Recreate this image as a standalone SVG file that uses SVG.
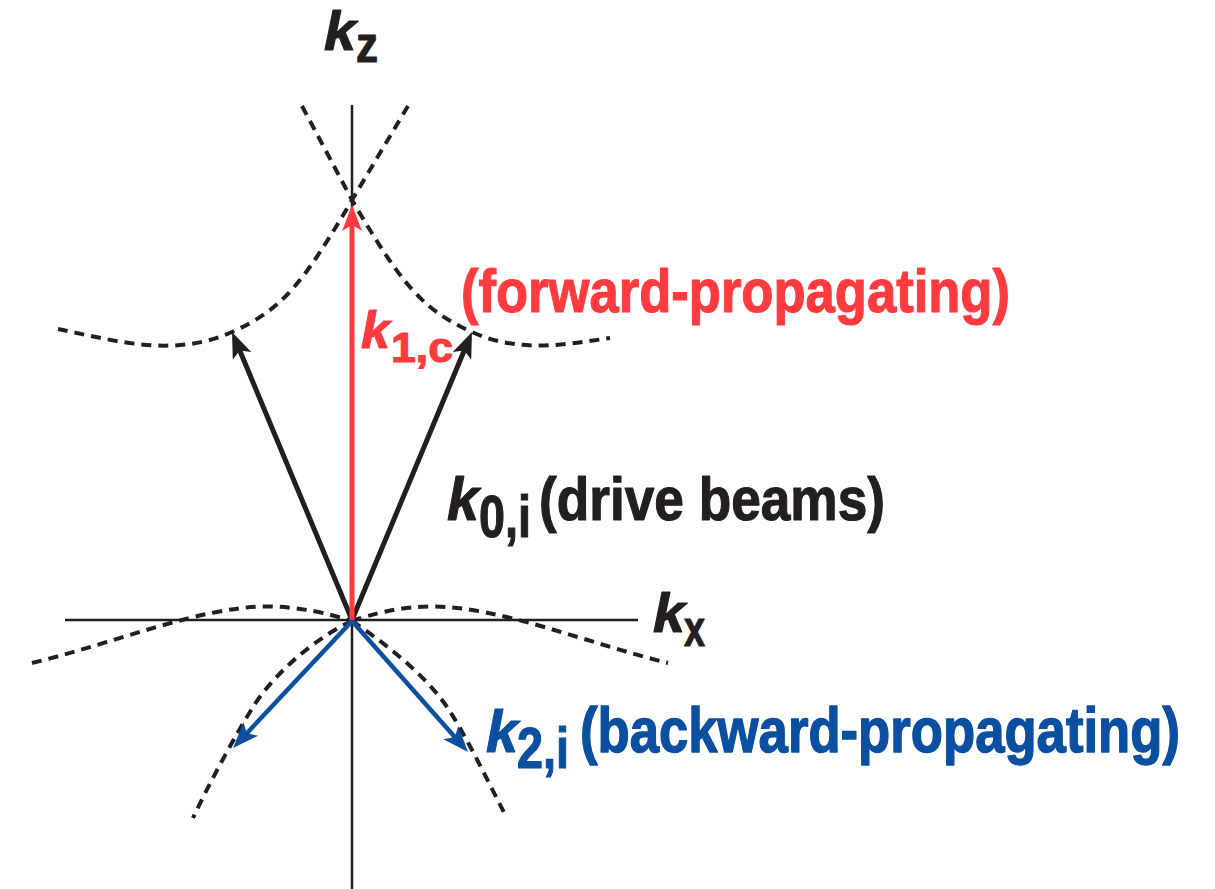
<svg xmlns="http://www.w3.org/2000/svg" width="1215" height="889" viewBox="0 0 1215 889">
<style>
.axis{stroke:#231f20;stroke-width:2.5;fill:none}
.dash{stroke:#231f20;stroke-width:4;fill:none;stroke-dasharray:10 7}
.vk{stroke:#231f20;stroke-width:5;fill:none}
.vr{stroke:#ff3b3f;stroke-width:5;fill:none}
.vb{stroke:#0a4fa0;stroke-width:4.5;fill:none}
text{font-family:"Liberation Sans",Arial,sans-serif;font-weight:bold;stroke-width:1.2;stroke-linejoin:round}
.it{font-style:italic}
.tk{fill:#231f20;stroke:#231f20}
.tr{fill:#ff3b3f;stroke:#ff3b3f}
.tb{fill:#0a4fa0;stroke:#0a4fa0}
</style>
<defs>
<marker id="hk" markerUnits="userSpaceOnUse" viewBox="-15 -12 32 24" markerWidth="32" markerHeight="24" refX="0" refY="0" orient="auto" overflow="visible"><path d="M15,0 L-11,-10 L-5,0 L-11,10 Z" fill="#231f20"/></marker>
<marker id="hr" markerUnits="userSpaceOnUse" viewBox="-15 -12 32 24" markerWidth="32" markerHeight="24" refX="0" refY="0" orient="auto" overflow="visible"><path d="M15,0 L-11,-10 L-5,0 L-11,10 Z" fill="#ff3b3f"/></marker>
<marker id="hb" markerUnits="userSpaceOnUse" viewBox="-15 -12 32 24" markerWidth="32" markerHeight="24" refX="0" refY="0" orient="auto" overflow="visible"><path d="M15,0 L-11,-10 L-5,0 L-11,10 Z" fill="#0a4fa0"/></marker>
</defs>
<rect width="1215" height="889" fill="#ffffff"/>
<g id="axes">
<line class="axis" x1="352" y1="105" x2="352" y2="889"/>
<line class="axis" x1="65" y1="620" x2="638" y2="620"/>
</g>
<g id="dispersion-curves">
<path class="dash" d="M408,106 L352,200 C302,285 282,309.5 232,332 C174,358 116,341 58,329"/>
<path class="dash" d="M302,106 L352,200 C402,285 422,309.5 472,332 C518,353 564,345 610,338"/>
<path class="dash" d="M32,663 C112,644 200,606.5 267,606.5 C300,606.5 330,614 352,621"/>
<path class="dash" d="M352,621 C372,614 400,606.5 432,606.5 C500,606.5 590,644 668,663"/>
<path class="dash" d="M352,621 C317,637 275,672 253,707 C233,739 206,790 193,818"/>
<path class="dash" d="M352,621 C382,641 420,671 442,700 C462,726 493,792 507,818"/>
</g>
<g id="connectors">
<line class="vk" x1="352" y1="620" x2="237.8" y2="345.8" marker-end="url(#hk)"/>
<line class="vk" x1="352" y1="620" x2="466.2" y2="345.8" marker-end="url(#hk)"/>
<line class="vr" x1="352" y1="620" x2="352" y2="220" marker-end="url(#hr)"/>
<line class="vb" x1="352" y1="621" x2="243.3" y2="737" marker-end="url(#hb)"/>
<line class="vb" x1="352" y1="621" x2="458.1" y2="740.8" marker-end="url(#hb)"/>
</g>
<g id="label-kz" class="tk">
<text class="it" x="324" y="50" font-size="56" textLength="32" lengthAdjust="spacingAndGlyphs">k</text>
<text x="356" y="62" font-size="50" textLength="22" lengthAdjust="spacingAndGlyphs">z</text>
</g>
<g id="label-kx" class="tk">
<text class="it" x="653" y="632" font-size="56" textLength="32" lengthAdjust="spacingAndGlyphs">k</text>
<text x="684" y="646" font-size="50" textLength="21" lengthAdjust="spacingAndGlyphs">x</text>
</g>
<g id="label-k1c" class="tr">
<text class="it" x="361" y="348" font-size="52">k</text>
<text x="391" y="362" font-size="42" textLength="62" lengthAdjust="spacingAndGlyphs">1,c</text>
</g>
<g id="label-forward" class="tr">
<text x="461" y="312" font-size="62" textLength="549" lengthAdjust="spacingAndGlyphs">(forward-propagating)</text>
</g>
<g id="label-k0i" class="tk">
<text class="it" x="447" y="520" font-size="62" textLength="32" lengthAdjust="spacingAndGlyphs">k</text>
<text x="479" y="537" font-size="60" textLength="52" lengthAdjust="spacingAndGlyphs">0,i</text>
<text x="539" y="520" font-size="62" textLength="346" lengthAdjust="spacingAndGlyphs">(drive beams)</text>
</g>
<g id="label-k2i" class="tb">
<text class="it" x="486" y="752" font-size="60" textLength="32" lengthAdjust="spacingAndGlyphs">k</text>
<text x="517" y="768" font-size="58" textLength="52" lengthAdjust="spacingAndGlyphs">2,i</text>
<text transform="translate(580,752) scale(1,1.17)" x="0" y="0" font-size="53" textLength="600" lengthAdjust="spacingAndGlyphs">(backward-propagating)</text>
</g>
</svg>
